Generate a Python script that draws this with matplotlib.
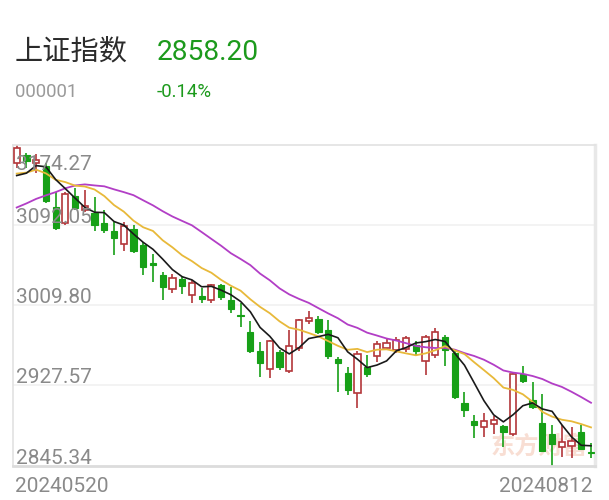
import numpy as np
import pandas as pd
import matplotlib
matplotlib.use("Agg")
import matplotlib.pyplot as plt

plt.rcParams['font.family'] = ['Roboto', 'Noto Sans CJK SC', 'DejaVu Sans']

# closes before the first day shown, only used to seed the moving averages
prev_close = [3074.22, 3065.26, 3044.60, 3021.98, 3044.82, 3052.90, 3088.64,
              3113.04, 3104.82, 3140.72, 3147.74, 3128.48, 3154.32, 3154.55,
              3148.02, 3145.77, 3119.90, 3122.40, 3154.03]

opens = [3156, 3164, 3155, 3152, 3110, 3094, 3122, 3107, 3104, 3094,
         3086, 3072, 3088, 3071, 3053, 3041, 3026, 3037, 3020, 3019,
         3015, 3030, 3015, 2999.5, 2982, 2963, 2944, 2962, 2942, 2966,
         2993, 2996, 2984, 2955, 2940, 2920, 2946, 2958, 2966, 2964,
         2965, 2969, 2952, 2959, 2977, 2961, 2909, 2891, 2885, 2888,
         2886, 2878, 2939, 2913, 2889, 2878, 2864, 2865, 2880, 2859]
highs = [3174.27, 3166, 3165, 3155, 3126, 3126, 3130, 3128, 3121, 3107,
         3095, 3095, 3092, 3075, 3062, 3044, 3042, 3040, 3036, 3027,
         3031, 3031, 3028, 3012, 2993, 2972, 2974, 2964, 2984, 2996,
         3004, 2999, 2995, 2957, 2946, 2963, 2959, 2973, 2975, 2977,
         2978, 2973, 2979, 2986, 2979, 2963, 2921, 2897, 2899, 2896,
         2887, 2940, 2947, 2931, 2919, 2887, 2887, 2885, 2887, 2868]
lows = [3150, 3150, 3145, 3114, 3087, 3092, 3107, 3105, 3086, 3084,
        3061, 3065, 3063, 3041, 3033, 3015, 3022, 3021, 3012, 3012,
        3012, 3015, 3002, 2987, 2961, 2936, 2935, 2943, 2940, 2963,
        2990, 2980, 2955, 2921, 2918, 2904, 2936, 2951, 2964, 2961,
        2962, 2958, 2938, 2956, 2947, 2914, 2895, 2874, 2875, 2878,
        2864, 2876, 2930, 2903, 2859, 2845.34, 2854, 2853, 2861, 2853]
closes = [3171.15, 3157.97, 3158.54, 3116.39, 3088.87, 3124.04, 3109.57, 3111.02, 3091.68, 3086.81,
          3078.49, 3091.20, 3065.40, 3048.79, 3051.28, 3028.05, 3037.47, 3028.92, 3032.63, 3015.89,
          3030.25, 3018.05, 3005.44, 2998.14, 2963.10, 2950.00, 2972.53, 2945.85, 2967.40, 2994.73,
          2997.01, 2982.38, 2957.57, 2949.93, 2922.45, 2959.37, 2939.36, 2970.39, 2971.30, 2974.01,
          2976.30, 2962.84, 2977.13, 2982.31, 2964.22, 2915.37, 2901.95, 2886.43, 2890.90, 2891.85,
          2879.30, 2938.75, 2932.39, 2905.34, 2860.70, 2867.28, 2869.90, 2870.22, 2862.19, 2858.20]

y_levels = [2845.34, 2927.57, 3009.80, 3092.05, 3174.27]
first_date = '20240520'
last_date = '20240812'

red = '#b3363a'
green = '#17a017'

all_close = pd.Series(prev_close + closes)
n_prev = len(prev_close)
ma5 = all_close.rolling(5).mean().values[n_prev:]
ma10 = all_close.rolling(10).mean().values[n_prev:]
ma20 = all_close.rolling(20).mean().values[n_prev:]

fig = plt.figure(figsize=(6.09, 5.0), dpi=100)
ax = fig.add_axes([13 / 609, 1 - 465.5 / 500, 582 / 609, 320.8 / 500])

x = np.arange(len(closes))
w = 0.64
for i in x:
    o, h, l, c = opens[i], highs[i], lows[i], closes[i]
    col = red if c >= o else green
    ax.vlines(i, l, h, color=col, lw=1.2, zorder=2)
    hgt = max(abs(c - o), 0.9)
    if c >= o:
        ax.bar(i, hgt, bottom=min(o, c), width=w, facecolor='white',
               edgecolor=col, lw=1.2, zorder=3)
    else:
        ax.bar(i, hgt, bottom=min(o, c), width=w, facecolor=col,
               edgecolor=col, lw=0.8, zorder=3)

ax.plot(x, ma20, color='#b23ec6', lw=1.3, zorder=4)
ax.plot(x, ma10, color='#e8b93a', lw=1.3, zorder=4)
ax.plot(x, ma5, color='#1a1a1a', lw=1.2, zorder=5)

ax.set_xlim(-0.38, 59.41)
ax.set_ylim(y_levels[0], y_levels[-1])
ax.set_yticks(y_levels[1:-1])
ax.set_xticks([])
ax.tick_params(axis='y', length=0, labelleft=False)
ax.grid(axis='y', color='#f1f1f1', lw=1.2)
ax.set_axisbelow(True)
for s in ['top', 'left']:
    ax.spines[s].set_color('#e2e2e2')
    ax.spines[s].set_linewidth(1.2)
ax.spines['bottom'].set_color('#dcdcdc')
ax.spines['bottom'].set_linewidth(2)
ax.spines['right'].set_color('#e8e8e8')
ax.spines['right'].set_linewidth(2.5)

tr = ax.get_yaxis_transform()
for k, v in enumerate(y_levels):
    off = (3, -25) if k == len(y_levels) - 1 else (3, 2)
    ax.annotate('%.2f' % v, xy=(0, v), xycoords=tr, xytext=off,
                textcoords='offset pixels', va='baseline', ha='left',
                fontsize=15, color='#8a8a8a', zorder=6)

# faint watermark behind the candles
ax.text(0.987, 0.06, '东方财富', transform=ax.transAxes, ha='right', va='center',
        fontsize=17.5, color='#f6d3c5', alpha=0.75, zorder=1,
        family=['Noto Sans CJK SC', 'DejaVu Sans'], fontweight='bold')

fig.text(15 / 609, 1 - 59.5 / 500, '上证指数', fontsize=20.3, color='#2b2b2b',
         va='baseline', ha='left')
fig.text(157 / 609, 1 - 59.5 / 500, '2858.20', fontsize=20.3, color='#1c9a1c',
         va='baseline', ha='left')
fig.text(15 / 609, 1 - 96.7 / 500, '000001', fontsize=13.4, color='#9a9a9a',
         va='baseline', ha='left')
fig.text(157 / 609, 1 - 96.7 / 500, '-0.14%', fontsize=13.4, color='#1c9a1c',
         va='baseline', ha='left')

fig.text(15 / 609, 1 - 491.7 / 500, first_date, fontsize=15, color='#8a8a8a',
         va='baseline', ha='left')
fig.text(592 / 609, 1 - 491.7 / 500, last_date, fontsize=15, color='#8a8a8a',
         va='baseline', ha='right')

fig.savefig('out.png', dpi=100)
